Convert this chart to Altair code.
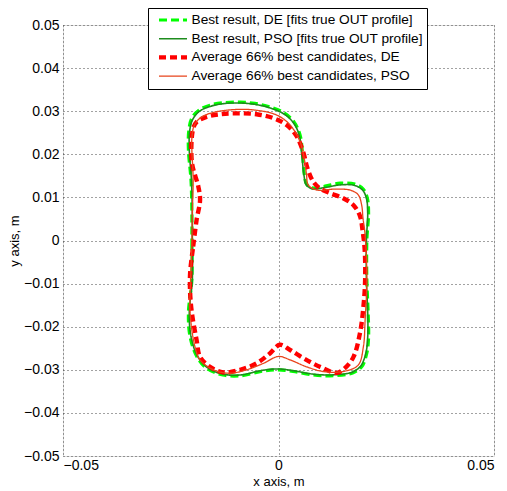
import altair as alt
import pandas as pd

FONT = "Liberation Sans"

series_names = [
    "Best result, DE [fits true OUT profile]",
    "Best result, PSO [fits true OUT profile]",
    "Average 66% best candidates, DE",
    "Average 66% best candidates, PSO",
]

green_de_x = [-0.0201, -0.0201, -0.0203, -0.0209, -0.0208, -0.0201, -0.0184, -0.0159, -0.0124, -0.0089,
              -0.0055, -0.0020, 0.0013, 0.0036, 0.0050, 0.0056, 0.0060, 0.0065, 0.0078, 0.0108,
              0.0143, 0.0177, 0.0197, 0.0206, 0.0209, 0.0205, 0.0205, 0.0208, 0.0209, 0.0205,
              0.0193, 0.0173, 0.0158, 0.0119, 0.0080, 0.0034, 0.0000, -0.0036, -0.0089, -0.0129,
              -0.0166, -0.0189, -0.0205, -0.0209, -0.0201]
green_de_y = [-0.0014, 0.0064, 0.0140, 0.0210, 0.0256, 0.0284, 0.0303, 0.0314, 0.0320, 0.0321,
              0.0318, 0.0310, 0.0296, 0.0275, 0.0245, 0.0198, 0.0152, 0.0131, 0.0122, 0.0126,
              0.0133, 0.0131, 0.0119, 0.0099, 0.0064, 0.0001, -0.0092, -0.0168, -0.0224, -0.0261,
              -0.0293, -0.0307, -0.0311, -0.0314, -0.0312, -0.0304, -0.0300, -0.0303, -0.0314, -0.0312,
              -0.0297, -0.0270, -0.0224, -0.0168, -0.0092]

green_pso_x = [-0.0200, -0.0200, -0.0202, -0.0207, -0.0206, -0.0199, -0.0183, -0.0159, -0.0124, -0.0089,
               -0.0055, -0.0021, 0.0012, 0.0034, 0.0048, 0.0054, 0.0059, 0.0064, 0.0078, 0.0108,
               0.0143, 0.0176, 0.0195, 0.0204, 0.0207, 0.0204, 0.0204, 0.0207, 0.0207, 0.0203,
               0.0191, 0.0172, 0.0157, 0.0119, 0.0080, 0.0034, 0.0000, -0.0036, -0.0089, -0.0129,
               -0.0165, -0.0188, -0.0203, -0.0207, -0.0200]
green_pso_y = [-0.0014, 0.0064, 0.0140, 0.0210, 0.0255, 0.0281, 0.0300, 0.0311, 0.0318, 0.0319,
               0.0316, 0.0308, 0.0294, 0.0274, 0.0245, 0.0198, 0.0152, 0.0130, 0.0120, 0.0123,
               0.0129, 0.0128, 0.0117, 0.0098, 0.0064, 0.0001, -0.0092, -0.0168, -0.0224, -0.0260,
               -0.0291, -0.0305, -0.0309, -0.0312, -0.0310, -0.0302, -0.0298, -0.0301, -0.0312, -0.0310,
               -0.0295, -0.0268, -0.0223, -0.0168, -0.0092]

red_de_x = [-0.0198, -0.0190, -0.0182, -0.0186, -0.0201, -0.0198, -0.0190, -0.0167, -0.0136, -0.0097,
            -0.0051, -0.0012, 0.0019, 0.0042, 0.0058, 0.0067, 0.0081, 0.0096, 0.0119, 0.0150,
            0.0174, 0.0189, 0.0195, 0.0200, 0.0201, 0.0197, 0.0189, 0.0174, 0.0154, 0.0135,
            0.0096, 0.0058, 0.0027, 0.0003, -0.0020, -0.0051, -0.0089, -0.0128, -0.0159, -0.0182,
            -0.0190, -0.0201, -0.0205, -0.0205]
red_de_y = [-0.0014, 0.0048, 0.0094, 0.0125, 0.0182, 0.0260, 0.0275, 0.0287, 0.0293, 0.0295,
            0.0293, 0.0284, 0.0268, 0.0242, 0.0203, 0.0168, 0.0136, 0.0121, 0.0110, 0.0098,
            0.0082, 0.0057, 0.0024, -0.0022, -0.0092, -0.0154, -0.0215, -0.0270, -0.0296, -0.0307,
            -0.0293, -0.0273, -0.0254, -0.0242, -0.0262, -0.0285, -0.0300, -0.0306, -0.0293, -0.0270,
            -0.0231, -0.0168, -0.0122, -0.0075]

red_pso_x = [-0.0201, -0.0200, -0.0198, -0.0201, -0.0201, -0.0196, -0.0182, -0.0159, -0.0113, -0.0058,
             -0.0004, 0.0027, 0.0050, 0.0061, 0.0065, 0.0069, 0.0089, 0.0127, 0.0166, 0.0185,
             0.0193, 0.0196, 0.0201, 0.0205, 0.0201, 0.0197, 0.0185, 0.0150, 0.0104, 0.0065,
             0.0027, 0.0000, -0.0035, -0.0074, -0.0113, -0.0151, -0.0182, -0.0194, -0.0205, -0.0204]
red_pso_y = [-0.0014, 0.0064, 0.0140, 0.0210, 0.0237, 0.0266, 0.0284, 0.0295, 0.0303, 0.0303,
             0.0291, 0.0268, 0.0229, 0.0183, 0.0152, 0.0129, 0.0117, 0.0119, 0.0117, 0.0106,
             0.0082, 0.0052, 0.0013, -0.0092, -0.0184, -0.0246, -0.0289, -0.0304, -0.0304, -0.0293,
             -0.0277, -0.0269, -0.0285, -0.0300, -0.0308, -0.0300, -0.0277, -0.0246, -0.0168, -0.0092]

y_ticks = [-0.05, -0.04, -0.03, -0.02, -0.01, 0, 0.01, 0.02, 0.03, 0.04, 0.05]
x_ticks = [-0.05, 0, 0.05]

rows = []
for name, xs, ys in zip(series_names,
                        [green_de_x, green_pso_x, red_de_x, red_pso_x],
                        [green_de_y, green_pso_y, red_de_y, red_pso_y]):
    pts = list(zip(xs, ys)) + [(xs[0], ys[0])]
    for i, (x, y) in enumerate(pts):
        rows.append({"series": name, "x": x, "y": y, "i": i})
df = pd.DataFrame(rows)

colors = ["#00FF00", "#1E8C1E", "#FF0000", "#E8441C"]
dashes = [[8, 4], [1, 0], [7, 4], [1, 0]]
widths = [3.2, 1.6, 4.4, 1.3]

grid_common = dict(grid=True, gridColor="#444", gridDash=[1, 3], gridWidth=1,
                   ticks=False, domain=False, labelFont=FONT, labelFontSize=14,
                   labelColor="black", titleFont=FONT, titleFontSize=13,
                   titleFontWeight="normal", titleColor="black")

chart = alt.Chart(df).mark_line(clip=True, strokeCap="butt", interpolate="catmull-rom").encode(
    x=alt.X("x:Q", scale=alt.Scale(domain=[-0.05, 0.05], nice=False, zero=False),
            axis=alt.Axis(values=x_ticks, format="~g", title="x axis, m",
                          labelPadding=2, titlePadding=3, **grid_common)),
    y=alt.Y("y:Q", scale=alt.Scale(domain=[-0.05, 0.05], nice=False, zero=False),
            axis=alt.Axis(values=y_ticks, format="~g", title="y axis, m",
                          labelPadding=4, titlePadding=2, **grid_common)),
    color=alt.Color("series:N", scale=alt.Scale(domain=series_names, range=colors),
                    legend=alt.Legend(orient="none", legendX=85, legendY=-17, title=None,
                                      symbolType="stroke", symbolSize=784,
                                      fillColor="white", strokeColor="black",
                                      padding=3.5, symbolOffset=5, labelFont=FONT, labelFontSize=13.7,
                                      labelColor="black", labelLimit=400,
                                      clipHeight=17, rowPadding=1.7,
                                      labelOffset=2,
                                      labelExpr="datum.label + '    '")),
    strokeDash=alt.StrokeDash("series:N", scale=alt.Scale(domain=series_names, range=dashes)),
    strokeWidth=alt.StrokeWidth("series:N", scale=alt.Scale(type="ordinal", domain=series_names, range=widths)),
    order=alt.Order("i:Q"),
    detail="series:N",
).properties(
    width=431, height=431,
    autosize=alt.AutoSizeParams(type="none"),
    padding={"left": 63, "top": 25, "right": 13, "bottom": 35},
).configure_view(stroke="#333", strokeWidth=1).configure(background="white")

chart.save("out.html", embed_options={"renderer": "svg", "actions": False})
